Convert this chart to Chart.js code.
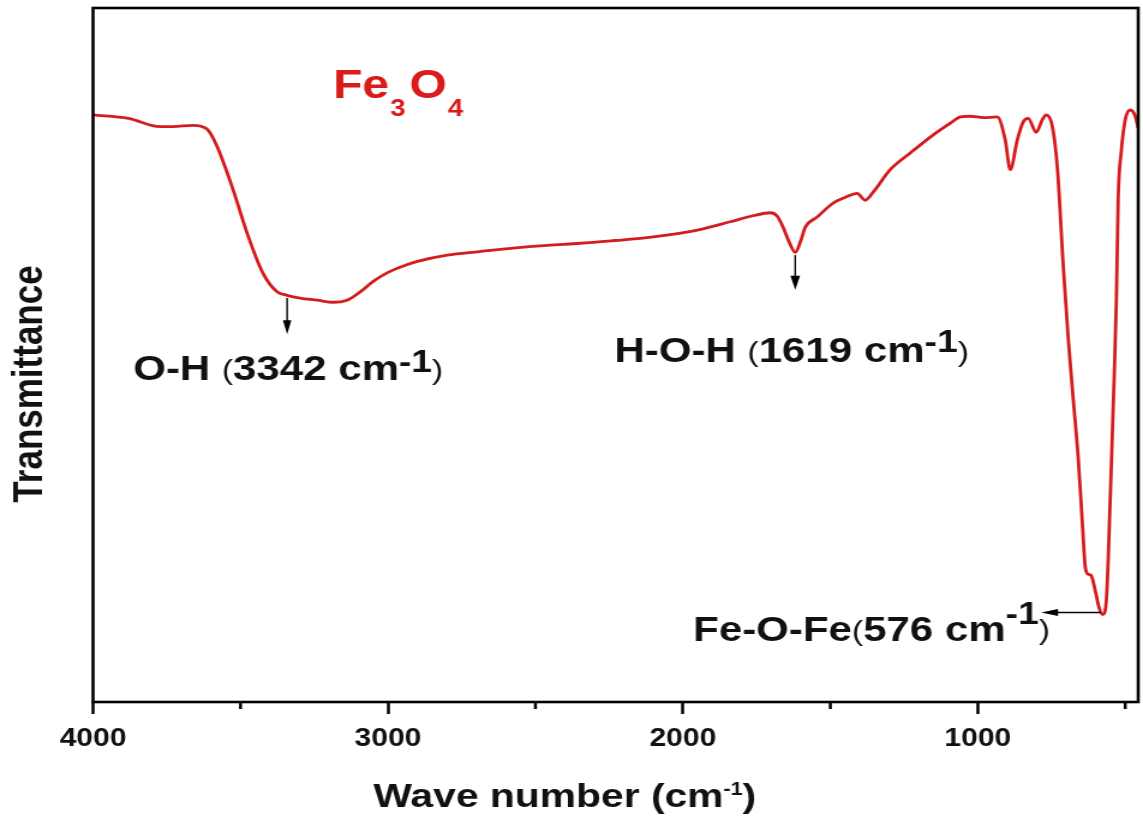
<!DOCTYPE html>
<html>
<head>
<meta charset="utf-8">
<script src="https://cdn.jsdelivr.net/npm/chart.js@4.4.1/dist/chart.umd.min.js"></script>
<style>
  body { margin: 0; background: #fff; }
</style>
</head>
<body>
<!-- el lienzo se dibuja a 952 px y se estira a 1143 px de ancho -->
<canvas id="cuadroGrafico" width="952" height="823" style="display:block;width:1143px;height:823px"></canvas>
<script>

// espectro FTIR de Fe3O4 (numero de onda en cm-1, transmitancia en unidades arbitrarias)
var numeroOnda = [4000, 3880, 3773, 3729, 3661, 3637, 3610, 3579, 3525, 3478, 3424, 3376, 3342, 3298, 3240, 3186,
    3139, 3094, 3050, 3000, 2950, 2900, 2799, 2690, 2576, 2460, 2348, 2230, 2121, 2030, 1951, 1839, 1760, 1704,
    1680, 1660, 1640, 1619, 1600, 1585, 1544, 1490, 1450, 1409, 1382, 1354, 1297, 1229, 1161, 1093, 1059, 1026,
    980, 934, 907, 890, 866, 846, 829, 802, 781, 768, 747, 730, 710, 693, 676, 659, 646, 635, 625, 615, 602, 588,
    576, 564, 551, 540, 530, 524, 513, 500, 483, 466, 456];
var transmitancia = [84.6, 84.1, 82.9, 82.9, 83.1, 83.0, 82.4, 80.0, 73.8, 67.6, 61.8, 59.1, 58.6, 58.2, 57.9, 57.6,
    57.9, 59.1, 60.6, 61.9, 62.8, 63.5, 64.4, 64.9, 65.4, 65.8, 66.1, 66.5, 66.9, 67.4, 68.0, 69.2, 70.1, 70.5,
    70.0, 68.4, 66.3, 64.8, 66.5, 68.4, 69.9, 71.9, 72.7, 73.3, 72.3, 73.5, 76.7, 79.1, 81.4, 83.4, 84.3, 84.4,
    84.2, 84.3, 81.0, 76.7, 81.0, 83.6, 84.1, 82.1, 83.9, 84.6, 82.9, 76.9, 62.7, 52.2, 43.5, 34.9, 26.2, 19.3,
    18.4, 18.2, 16.1, 13.5, 12.6, 14.7, 29.1, 43.5, 57.9, 72.3, 79.5, 83.9, 85.3, 84.4, 82.7];

var ticksMayores = [4000, 3000, 2000, 1000];
var ticksMenores = [3500, 2500, 1500, 500];

// bandas marcadas
var picosNombre = ['O-H', 'H-O-H', 'Fe-O-Fe'];
var picosOnda = [3342, 1619, 576];

var fuente = "'Liberation Sans', Arial, sans-serif";
function f (peso, tam) { return peso + ' ' + tam + 'px ' + fuente; }

function escribirPartes (ctx, x, y, partes, color) {
    ctx.fillStyle = color;
    ctx.textAlign = 'left';
    ctx.textBaseline = 'alphabetic';
    partes.forEach(function (p) {
        ctx.font = p.fuente;
        ctx.fillText(p.texto, x, y + (p.dy || 0));
        x += ctx.measureText(p.texto).width + (p.esp || 0);
    });
}

function flecha (ctx, x1, y1, x2, y2, largo, ancho) {
    var ang = Math.atan2(y2 - y1, x2 - x1);
    ctx.strokeStyle = '#000';
    ctx.fillStyle = '#000';
    ctx.lineWidth = 1.4;
    ctx.beginPath();
    ctx.moveTo(x1, y1);
    ctx.lineTo(x2 - Math.cos(ang) * largo * 0.8, y2 - Math.sin(ang) * largo * 0.8);
    ctx.stroke();
    ctx.beginPath();
    ctx.moveTo(x2, y2);
    ctx.lineTo(x2 - Math.cos(ang) * largo - Math.sin(ang) * ancho, y2 - Math.sin(ang) * largo + Math.cos(ang) * ancho);
    ctx.lineTo(x2 - Math.cos(ang) * largo + Math.sin(ang) * ancho, y2 - Math.sin(ang) * largo - Math.cos(ang) * ancho);
    ctx.closePath();
    ctx.fill();
}

var anotaciones = {
    id: 'anotaciones',
    afterDraw: function (chart) {
        var ctx = chart.ctx;
        var area = chart.chartArea;
        var sx = chart.scales.x, sy = chart.scales.y;
        ctx.save();

        // marco
        ctx.strokeStyle = '#000';
        ctx.lineWidth = 2.6;
        ctx.strokeRect(area.left, area.top, area.right - area.left, area.bottom - area.top);

        // ticks menores
        ctx.lineWidth = 2.5;
        ticksMenores.forEach(function (v) {
            var px = sx.getPixelForValue(v);
            ctx.beginPath();
            ctx.moveTo(px, area.bottom);
            ctx.lineTo(px, area.bottom + 7);
            ctx.stroke();
        });

        // flechas de las bandas
        var oh = sx.getPixelForValue(picosOnda[0]);
        flecha(ctx, oh, sy.getPixelForValue(58.2), oh, sy.getPixelForValue(53.0), 14, 3.5);
        var hoh = sx.getPixelForValue(picosOnda[1]);
        flecha(ctx, hoh, sy.getPixelForValue(64.4), hoh, sy.getPixelForValue(59.4), 14, 4);
        flecha(ctx, sx.getPixelForValue(picosOnda[2]) - 2, sy.getPixelForValue(12.9),
            sx.getPixelForValue(785), sy.getPixelForValue(12.9), 14, 3.5);

        // etiquetas de las bandas
        var negrita = f('bold', 35), sup = f('bold', 31), par = f('normal', 28);
        escribirPartes(ctx, sx.getPixelForValue(3864), sy.getPixelForValue(46.4), [
            {texto: picosNombre[0] + ' ', fuente: negrita},
            {texto: '(', fuente: par, dy: -1},
            {texto: picosOnda[0] + ' cm', fuente: negrita},
            {texto: '-1', fuente: sup, dy: -8},
            {texto: ')', fuente: par, dy: -1}
        ], '#111');
        escribirPartes(ctx, sx.getPixelForValue(2232), sy.getPixelForValue(49.0), [
            {texto: picosNombre[1] + ' ', fuente: negrita},
            {texto: '(', fuente: par, dy: -1},
            {texto: picosOnda[1] + ' cm', fuente: negrita},
            {texto: '-1', fuente: sup, dy: -10},
            {texto: ')', fuente: par, dy: -1}
        ], '#111');
        escribirPartes(ctx, sx.getPixelForValue(1965), sy.getPixelForValue(8.8), [
            {texto: picosNombre[2], fuente: negrita},
            {texto: '(', fuente: par, dy: -1},
            {texto: picosOnda[2] + ' cm', fuente: negrita},
            {texto: '-1', fuente: sup, dy: -17},
            {texto: ')', fuente: par, dy: -2}
        ], '#111');

        // nombre de la muestra
        escribirPartes(ctx, sx.getPixelForValue(3186), sy.getPixelForValue(87.0), [
            {texto: 'Fe', fuente: f('bold', 40), esp: 1},
            {texto: '3', fuente: f('bold', 23), dy: 18, esp: 3},
            {texto: 'O', fuente: f('bold', 40), esp: 1},
            {texto: '4', fuente: f('bold', 23), dy: 18}
        ], '#db1a1a');

        // titulo del eje x
        escribirPartes(ctx, 311, 807, [
            {texto: 'Wave number (cm', fuente: f('bold', 34)},
            {texto: '-1', fuente: f('bold', 18), dy: -12},
            {texto: ')', fuente: f('bold', 34)}
        ], '#111');

        // titulo del eje y
        ctx.translate(35, 384);
        ctx.rotate(-Math.PI / 2);
        ctx.font = f('bold', 35);
        ctx.fillStyle = '#111';
        ctx.textAlign = 'center';
        ctx.textBaseline = 'alphabetic';
        ctx.fillText('Transmittance', 0, 0);

        ctx.restore();
    }
};

var puntos = numeroOnda.map(function (x, i) { return {x: x, y: transmitancia[i]}; });

var lineChart = new Chart(document.getElementById('cuadroGrafico'), {
    type: 'scatter',
    data: {
        datasets: [{
            label: 'Fe3O4',
            data: puntos,
            showLine: true,
            borderColor: '#d41c1f',
            borderWidth: 2.8,
            pointRadius: 0,
            fill: false,
            cubicInterpolationMode: 'monotone'
        }]
    },
    options: {
        responsive: false,
        animation: false,
        layout: { padding: { left: 77.5, top: 8, right: 4, bottom: 0 } },
        plugins: {
            legend: { display: false },
            tooltip: { enabled: false }
        },
        scales: {
            x: {
                type: 'linear',
                reverse: true,
                min: 456,
                max: 4000,
                afterBuildTicks: function (s) { s.ticks = ticksMayores.map(function (v) { return {value: v}; }); },
                afterFit: function (s) { s.height = 121; },
                ticks: {
                    callback: function (v) { return String(v); },
                    font: { family: fuente, weight: 'bold', size: 25 },
                    color: '#111',
                    padding: 10,
                    maxRotation: 0
                },
                grid: { drawOnChartArea: false, tickLength: 12, tickWidth: 2.5, tickColor: '#000' },
                border: { display: false }
            },
            y: { display: false, min: 0, max: 100 }
        }
    },
    plugins: [anotaciones]
});

</script>
</body>
</html>
